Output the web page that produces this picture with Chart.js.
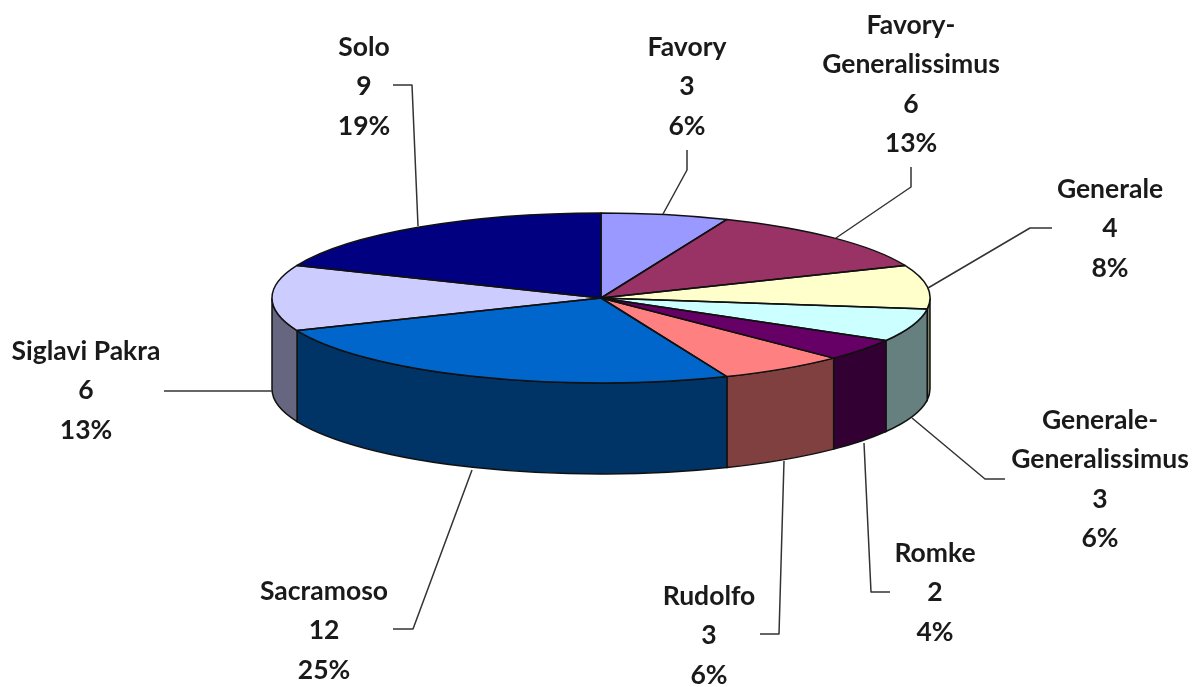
<!DOCTYPE html>
<html><head><meta charset="utf-8">
<style>html,body{margin:0;padding:0;background:#fff}canvas{display:block}</style>
<script src="https://cdn.jsdelivr.net/npm/chart.js@4"></script>
</head><body>
<canvas id="c" width="1203" height="687" style="width:1203px;height:687px"></canvas>
<script>
const categories = ['Favory','Favory-Generalissimus','Generale','Generale-Generalissimus','Romke','Rudolfo','Sacramoso','Siglavi Pakra','Solo'];
const counts = [3,6,4,3,2,3,12,6,9];
const percents = ['6%','13%','8%','6%','4%','6%','25%','13%','19%'];
const topColors = ['#9999FF','#993366','#FFFFCC','#CCFFFF','#660066','#FF8080','#0066CC','#CCCCFF','#000080'];
const wallColors = ['#666680','#4d1a33','#808066','#668080','#330033','#804040','#003366','#666680','#000040'];

const labelLines = [['Favory'],['Favory-','Generalissimus'],['Generale'],['Generale-','Generalissimus'],['Romke'],['Rudolfo'],['Sacramoso'],['Siglavi Pakra'],['Solo']];
const labelX = [687,911,1110,1100,935,709,324,86,364];
const labelY = [47,25,189,420,553,596,591,351,47];
const linePitch = 39.6;
const leaders = [
  [[687,150],[687,170],[663,214]],
  [[911,167],[911,187],[836,238]],
  [[1052,228],[1030,228],[928,288]],
  [[1005,479],[985,479],[912,418]],
  [[890,592],[871,592],[864,443]],
  [[760,634],[779,634],[784,461]],
  [[393,629],[413,629],[472,470]],
  [[164,391],[272,391]],
  [[393,85],[412,85],[418,226]]
];
const centerY = 298, squash = 85/329, depth = 91;

const pie3d = {
  id:'pie3d',
  beforeDatasetsDraw(chart){
    const ctx = chart.ctx, arcs = chart.getDatasetMeta(0).data;
    ctx.save();
    arcs.forEach((el,i)=>{
      const a0 = Math.max(el.startAngle,0), a1 = Math.min(el.endAngle,Math.PI);
      if(a1<=a0) return;
      const R = el.outerRadius, k = R*squash;
      ctx.beginPath();
      ctx.ellipse(el.x,centerY,R,k,0,a0,a1);
      ctx.ellipse(el.x,centerY+depth,R,k,0,a1,a0,true);
      ctx.closePath();
      ctx.fillStyle = wallColors[i];
      ctx.fill();
      ctx.strokeStyle = '#111';
      ctx.lineWidth = 1.5;
      ctx.stroke();
    });
    ctx.restore();
    ctx.save();
    const c = arcs[0];
    ctx.translate(c.x,centerY);
    ctx.scale(1,squash);
    ctx.translate(-c.x,-c.y);
  },
  afterDatasetsDraw(chart){
    const ctx = chart.ctx, arcs = chart.getDatasetMeta(0).data;
    ctx.restore();
    ctx.save();
    ctx.strokeStyle = '#111';
    ctx.lineWidth = 1.5;
    ctx.lineJoin = 'round';
    arcs.forEach(el=>{
      const R = el.outerRadius;
      ctx.beginPath();
      ctx.moveTo(el.x,centerY);
      ctx.ellipse(el.x,centerY,R,R*squash,0,el.startAngle,el.endAngle);
      ctx.closePath();
      ctx.stroke();
    });
    ctx.strokeStyle = '#333';
    ctx.lineWidth = 1.5;
    leaders.forEach(pts=>{
      ctx.beginPath();
      pts.forEach((p,i)=> i?ctx.lineTo(p[0],p[1]):ctx.moveTo(p[0],p[1]));
      ctx.stroke();
    });
    ctx.fillStyle = '#1a1a1a';
    ctx.font = "700 26.5px Lato";
    ctx.textAlign = 'center';
    ctx.textBaseline = 'middle';
    labelLines.forEach((lines,i)=>{
      const all = [...lines,String(counts[i]),percents[i]];
      all.forEach((t,j)=>ctx.fillText(t,labelX[i],labelY[i]+j*linePitch));
    });
    ctx.restore();
  }
};

new Chart(document.getElementById('c'),{
  type:'pie',
  data:{labels:categories,datasets:[{data:counts,backgroundColor:topColors,borderWidth:0,clip:false}]},
  options:{
    responsive:false,devicePixelRatio:1,animation:false,
    layout:{padding:{top:14,bottom:15,left:0,right:1}},
    plugins:{legend:{display:false},tooltip:{enabled:false}},
    events:[]
  },
  plugins:[pie3d]
});
</script>
</body></html>
